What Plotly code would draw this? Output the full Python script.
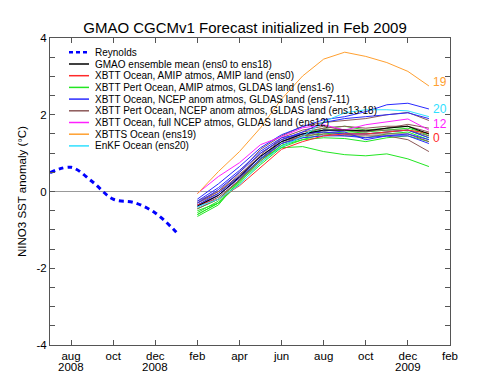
import plotly.graph_objects as go

# ---------------- data ----------------
# x axis in months: 0 = Jul 2008 ... 19 = Feb 2010
tick_vals = [1, 3, 5, 7, 9, 11, 13, 15, 17, 19]
tick_text = ["aug", "oct", "dec", "feb", "apr", "jun", "aug", "oct", "dec", "feb"]
year_pos = [1, 5, 17]
year_text = ["2008", "2008", "2009"]

reynolds_x = [0, 1, 2, 3, 4, 5, 6]
reynolds_y = [0.49, 0.63, 0.26, -0.2, -0.29, -0.56, -1.06]

fc_x = [7, 8, 9, 10, 11, 12, 13, 14, 15, 16, 17, 18]  # Feb 2009 .. Jan 2010

ens0 = [-0.35, -0.2, 0.15, 0.62, 1.1, 1.3, 1.45, 1.5, 1.5, 1.55, 1.6, 1.52]
ens1_6 = [
    [-0.65, -0.35, 0.3, 0.85, 1.14, 1.17, 1.04, 0.96, 0.93, 0.98, 0.85, 0.65],
    [-0.6, -0.3, 0.25, 0.8, 1.2, 1.35, 1.4, 1.38, 1.3, 1.4, 1.45, 1.3],
    [-0.55, -0.25, 0.3, 0.85, 1.25, 1.45, 1.6, 1.6, 1.5, 1.55, 1.6, 1.4],
    [-0.5, -0.3, 0.2, 0.7, 1.15, 1.35, 1.5, 1.55, 1.55, 1.6, 1.65, 1.5],
    [-0.45, -0.2, 0.3, 0.85, 1.3, 1.5, 1.65, 1.7, 1.6, 1.65, 1.7, 1.45],
    [-0.6, -0.3, 0.25, 0.75, 1.2, 1.4, 1.55, 1.5, 1.4, 1.5, 1.55, 1.35],
]
ens7_11 = [
    [-0.2, 0.2, 0.65, 1.14, 1.48, 1.69, 1.87, 1.95, 2.08, 2.26, 2.3, 2.15],
    [-0.3, 0.05, 0.5, 1.0, 1.35, 1.55, 1.8, 1.9, 1.95, 2.0, 2.05, 1.9],
    [-0.35, -0.05, 0.4, 0.9, 1.3, 1.5, 1.6, 1.55, 1.35, 1.45, 1.5, 1.35],
    [-0.25, 0.1, 0.55, 1.05, 1.4, 1.5, 1.55, 1.5, 1.5, 1.55, 1.6, 1.4],
    [-0.4, -0.1, 0.35, 0.85, 1.25, 1.4, 1.45, 1.45, 1.4, 1.45, 1.45, 1.25],
]
ens12 = [-0.05, 0.39, 0.75, 1.22, 1.43, 1.66, 1.74, 1.6, 1.74, 1.82, 1.89, 1.6]
ens13_18 = [
    [-0.3, 0.0, 0.5, 1.1, 1.45, 1.7, 1.8, 1.85, 1.9, 2.0, 2.06, 1.85],
    [-0.35, -0.1, 0.35, 0.95, 1.4, 1.6, 1.7, 1.6, 1.55, 1.65, 1.75, 1.65],
    [-0.25, 0.0, 0.4, 1.0, 1.35, 1.5, 1.55, 1.5, 1.5, 1.5, 1.5, 1.3],
    [-0.4, -0.15, 0.3, 0.85, 1.3, 1.45, 1.5, 1.45, 1.45, 1.45, 1.35, 1.04],
    [-0.3, -0.05, 0.45, 0.9, 1.35, 1.55, 1.65, 1.7, 1.65, 1.7, 1.7, 1.55],
    [-0.45, -0.2, 0.3, 0.8, 1.25, 1.45, 1.6, 1.6, 1.6, 1.6, 1.6, 1.45],
]
ens19 = [-0.06, 0.52, 1.04, 1.66, 2.41, 3.01, 3.45, 3.63, 3.52, 3.36, 3.13, 2.75]
ens20 = [-0.4, -0.2, 0.17, 0.75, 1.17, 1.43, 1.82, 2.05, 2.13, 2.13, 2.1, 1.95]
ens_mean = [-0.38, -0.1, 0.38, 0.92, 1.3, 1.5, 1.6, 1.6, 1.58, 1.65, 1.7, 1.5]

legend_labels = [
    "Reynolds",
    "GMAO ensemble mean (ens0 to ens18)",
    "XBTT Ocean, AMIP atmos, AMIP land (ens0)",
    "XBTT Pert Ocean, AMIP atmos, GLDAS land (ens1-6)",
    "XBTT Ocean, NCEP anom atmos, GLDAS land (ens7-11)",
    "XBTT Pert Ocean, NCEP anom atmos, GLDAS land (ens13-18)",
    "XBTT Ocean, full NCEP atmos, GLDAS land (ens12)",
    "XBTTS Ocean (ens19)",
    "EnKF Ocean (ens20)",
]
end_labels = ["19", "20", "12", "0"]

# ---------------- styles ----------------
C_REY = "#0000ff"
C_MEAN = "#000000"
C_RED = "#ff2a2a"
C_GREEN = "#22e622"
C_BLUE = "#2a2aff"
C_BROWN = "#8c5858"
C_MAG = "#ff20ff"
C_ORANGE = "#ffa030"
C_CYAN = "#30e0ff"
FONT = "Liberation Sans, Arial, sans-serif"

fig = go.Figure()

def add_line(y, color, width=1.0):
    fig.add_trace(go.Scatter(x=fc_x, y=y, mode="lines",
                             line=dict(color=color, width=width),
                             showlegend=False, hoverinfo="skip"))

for s in ens1_6:
    add_line(s, C_GREEN)
for s in ens13_18:
    add_line(s, C_BROWN)
for s in ens7_11:
    add_line(s, C_BLUE)
add_line(ens0, C_RED)
add_line(ens12, C_MAG)
add_line(ens_mean, C_MEAN)
add_line(ens20, C_CYAN)
add_line(ens19, C_ORANGE)

fig.add_trace(go.Scatter(x=reynolds_x, y=reynolds_y, mode="lines",
                         line=dict(color=C_REY, width=3, dash="5px,4px", shape="spline"),
                         showlegend=False, hoverinfo="skip"))

# ---------------- manual legend ----------------
leg_colors = [C_REY, C_MEAN, C_RED, C_GREEN, C_BLUE, C_BROWN, C_MAG, C_ORANGE, C_CYAN]
plot_l, plot_r, plot_t, plot_b = 50, 450, 38, 345
def px_to_paper_x(px):
    return (px - plot_l) / (plot_r - plot_l)
def px_to_paper_y(py):
    return (plot_b - py) / (plot_b - plot_t)

shapes = []
annotations = []
for i, (lab, col) in enumerate(zip(legend_labels, leg_colors)):
    yy = px_to_paper_y(52.3 + 11.7 * i)
    shapes.append(dict(type="line", xref="paper", yref="paper",
                       x0=px_to_paper_x(69), x1=px_to_paper_x(89), y0=yy, y1=yy,
                       line=dict(color=col, width=2.5 if i == 0 else 1.5,
                                 dash="4px,3px" if i == 0 else "solid")))
    annotations.append(dict(xref="paper", yref="paper", x=px_to_paper_x(93), y=yy,
                            text=lab, showarrow=False, xanchor="left", yanchor="middle",
                            font=dict(family=FONT, size=10, color="#000")))

# year labels under ticks
for xp, yt in zip(year_pos, year_text):
    annotations.append(dict(xref="x", yref="paper", x=xp, y=px_to_paper_y(367),
                            text=yt, showarrow=False, xanchor="center", yanchor="middle",
                            font=dict(family=FONT, size=11.5, color="#000")))

# end-of-line member labels
end_series = [ens19, ens20, ens12, ens0]
end_colors = [C_ORANGE, C_CYAN, C_MAG, C_RED]
end_yshift = [4, 8, 6, -5]
for lab, s, col, ys in zip(end_labels, end_series, end_colors, end_yshift):
    annotations.append(dict(xref="x", yref="y", x=fc_x[-1], y=s[-1], text=lab,
                            showarrow=False, xanchor="left", yanchor="middle",
                            xshift=3, yshift=ys, borderpad=0,
                            font=dict(family=FONT, size=12, color=col)))

y_tickvals = [v / 2 for v in range(-8, 9)]
y_ticktext = [str(int(v)) if v in (-4, -2, 0, 2, 4) else "" for v in y_tickvals]

fig.update_layout(
    width=500, height=384,
    margin=dict(l=plot_l, r=500 - plot_r, t=plot_t, b=384 - plot_b),
    paper_bgcolor="white", plot_bgcolor="white",
    font=dict(family=FONT, size=11.5, color="#000"),
    title=dict(text="GMAO CGCMv1 Forecast initialized in Feb 2009",
               font=dict(family=FONT, size=15, color="#000"),
               x=0.4875, xref="paper", xanchor="center",
               y=1 - 27.5 / 384, yref="container", yanchor="middle"),
    xaxis=dict(range=[0, 19], tickvals=tick_vals, ticktext=tick_text,
               ticks="inside", ticklen=5, tickcolor="#555", mirror="ticks",
               showline=True, linecolor="#555", linewidth=1,
               showgrid=False, zeroline=False,
               tickfont=dict(family=FONT, size=11.5)),
    yaxis=dict(range=[-4, 4], tickvals=y_tickvals, ticktext=y_ticktext,
               ticks="inside", ticklen=5, tickcolor="#555", mirror="ticks",
               showline=True, linecolor="#555", linewidth=1,
               showgrid=False, zeroline=True, zerolinecolor="#999", zerolinewidth=1,
               tickfont=dict(family=FONT, size=11.5),
               title=dict(text="NINO3 SST anomaly (°C)", standoff=7,
                          font=dict(family=FONT, size=11.5))),
    shapes=shapes,
    annotations=annotations,
)

fig.write_html("out.html", config={"displayModeBar": False},
               post_script="document.body.style.margin='0';document.body.style.overflow='hidden';")
